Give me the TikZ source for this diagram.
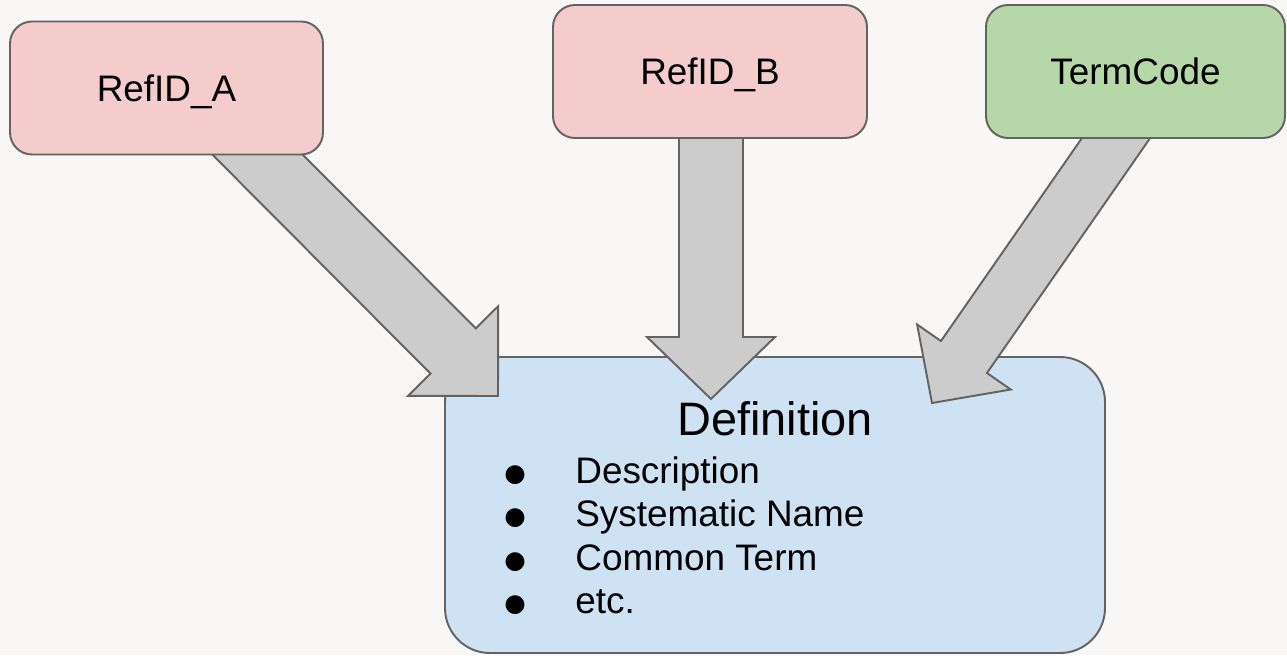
\documentclass[tikz,border=0pt]{standalone}
\usepackage{fontspec}
\setmainfont{Liberation Sans}
\newfontfamily\symfont{DejaVu Sans}
\usepackage{xcolor}
\usepackage{tikz}
\usetikzlibrary{calc}

\definecolor{bgpaper}{RGB}{248,247,245}
\definecolor{edgegray}{HTML}{636363}
\definecolor{pinkfill}{HTML}{F4CCCC}
\definecolor{greenfill}{HTML}{B6D7A8}
\definecolor{bluefill}{HTML}{CFE2F3}
\definecolor{arrowfill}{HTML}{CCCCCC}

% block arrow: start, tip, shaft half width, head length, head half width
\newcommand{\drawblockarrow}[5]{%
    \coordinate (hb) at ($(#2)!#4!(#1)$);
    \draw[blockarrow] ($(#1)!#3!90:(#2)$) -- ($(hb)!#3!90:(#2)$)
        -- ($(hb)!#5!90:(#2)$) -- (#2) -- ($(hb)!#5!-90:(#2)$)
        -- ($(hb)!#3!-90:(#2)$) -- ($(#1)!#3!-90:(#2)$) -- cycle;
}

\begin{document}
\begin{tikzpicture}[
    labelbox/.style={draw=edgegray, line width=1.1pt, rounded corners=0.44cm,
        minimum height=2.66cm, text height=0.53cm, text depth=0pt,
        font=\fontsize{21}{25}\selectfont},
    defbox/.style={draw=edgegray, fill=bluefill, line width=1.1pt,
        rounded corners=0.9cm, minimum width=13.2cm, minimum height=5.92cm},
    blockarrow/.style={draw=edgegray, fill=arrowfill, line width=1.1pt,
        line join=miter}
]
    \useasboundingbox (0,0) rectangle (25.74,-13.1);
    \fill[bgpaper] (0,0) rectangle (25.74,-13.1);

    % Definition box at the bottom
    \node[defbox] (def) at (15.5,-10.1) {};

    % Block arrows into the definition
    \coordinate (srcA) at (4.6,-2.54);
    \coordinate (tipA) at (9.96,-7.92);
    \coordinate (srcB) at (14.22,-2.0);
    \coordinate (tipB) at (14.22,-7.98);
    \coordinate (srcC) at (22.78,-2.1);
    \coordinate (tipC) at (18.64,-8.06);
    \drawblockarrow{srcA}{tipA}{0.64cm}{1.27cm}{1.27cm}
    \drawblockarrow{srcB}{tipB}{0.64cm}{1.24cm}{1.28cm}
    \drawblockarrow{srcC}{tipC}{0.56cm}{1.12cm}{1.14cm}

    % Definition text
    \node[anchor=base, font=\fontsize{26.7}{32}\selectfont] (deftitle) at (15.5,-8.7) {Definition};
    \foreach \y/\item in {-9.66/Description, -10.53/Systematic Name, -11.40/Common Term, -12.27/etc.} {
        \node[anchor=base, font=\symfont\fontsize{14}{16}\selectfont] at (10.3,\y+0.04) {●};
        \node[anchor=base west, inner sep=0pt, font=\fontsize{21}{25}\selectfont] at (11.5,\y) {\item};
    }

    % Source boxes on top
    \node[labelbox, fill=pinkfill, minimum width=6.26cm] (refa) at (3.33,-1.76) {RefID\_A};
    \node[labelbox, fill=pinkfill, minimum width=6.28cm] (refb) at (14.2,-1.43) {RefID\_B};
    \node[labelbox, fill=greenfill, minimum width=5.98cm] (term) at (22.71,-1.43) {TermCode};
\end{tikzpicture}
\end{document}
